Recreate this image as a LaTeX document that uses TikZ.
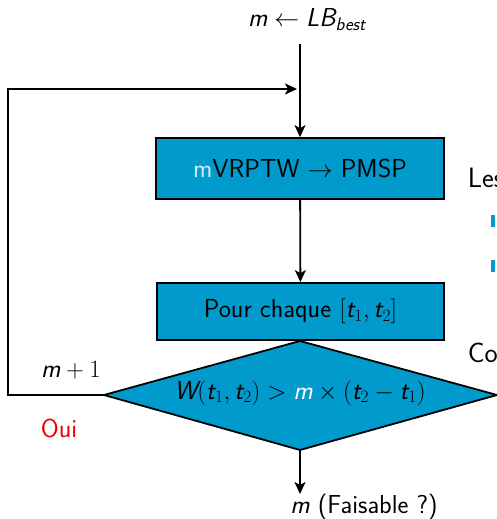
\documentclass[tikz,border=0pt]{standalone}
\usepackage{amsmath}
\usetikzlibrary{arrows.meta}
\definecolor{boxblue}{RGB}{0,154,204}
\definecolor{lightm}{RGB}{205,240,255}
\definecolor{ouired}{RGB}{235,0,0}
% italic sans letters inside formulas
\newcommand\sv[1]{\text{\sffamily\itshape #1}}

\begin{document}
\begin{tikzpicture}[x=1pt,y=-1pt,
  font=\sffamily\fontsize{26}{30}\selectfont,
  line width=1.8pt,
  >={Stealth[length=12pt,width=11pt,inset=3pt]},
  stepbox/.style={draw=black, fill=boxblue, inner sep=0pt},
  plain/.style={inner sep=0pt},
  slidetext/.style={inner sep=0pt, anchor=base west, font=\sffamily\fontsize{28}{32}\selectfont}]
\clip (0,0) rectangle (497,519);

% side text of the slide
\node[slidetext] (les) at (467,187) {Les};
\node[slidetext] (co) at (467,362) {Co};
\fill[boxblue] (491,215) rectangle (495,227);
\fill[boxblue] (491,260) rectangle (495,272);

% start value
\node[plain] (init) at (307,20) {$\sv{m} \leftarrow \sv{LB}_{\sv{best}}$};

% process boxes
\node[stepbox, minimum width=288, minimum height=61] (conv) at (300,168.5)
  {\textcolor{lightm}{m}VRPTW $\rightarrow$ PMSP};
\node[stepbox, minimum width=287, minimum height=57] (each) at (300.5,311.5)
  {Pour chaque $[\sv{t}_1, \sv{t}_2]$};

% decision
\coordinate (dtop) at (300,341);
\coordinate (dleft) at (104,395);
\coordinate (dright) at (497,395);
\coordinate (dbottom) at (300,450);
\draw[fill=boxblue, line join=miter] (dtop) -- (dright) -- (dbottom) -- (dleft) -- cycle;
\node[plain] (test) at (300,393)
  {$\sv{W}(\sv{t}_1, \sv{t}_2) > \textcolor{white}{\sv{m}} \times (\sv{t}_2 - \sv{t}_1)$};

% result
\coordinate (out) at (300,494);
\node[plain] (feas) at (364,507) {$\sv{m}$ (Faisable ?)};

% loop back
\coordinate (loopleft) at (8,89);
\coordinate (merge) at (297,89);
\node[plain] (inc) at (71,370) {$\sv{m} + 1$};
\node[plain, text=ouired] (oui) at (59,428) {Oui};

% connectors
\draw[->] ([yshift=-12pt]conv.north |- init.south) -- (conv.north);
\draw[->] (conv) -- (each);
\draw[->] (dbottom) -- (out);
\draw[->] (dleft) -| (loopleft) -- (merge);
\end{tikzpicture}
\end{document}
